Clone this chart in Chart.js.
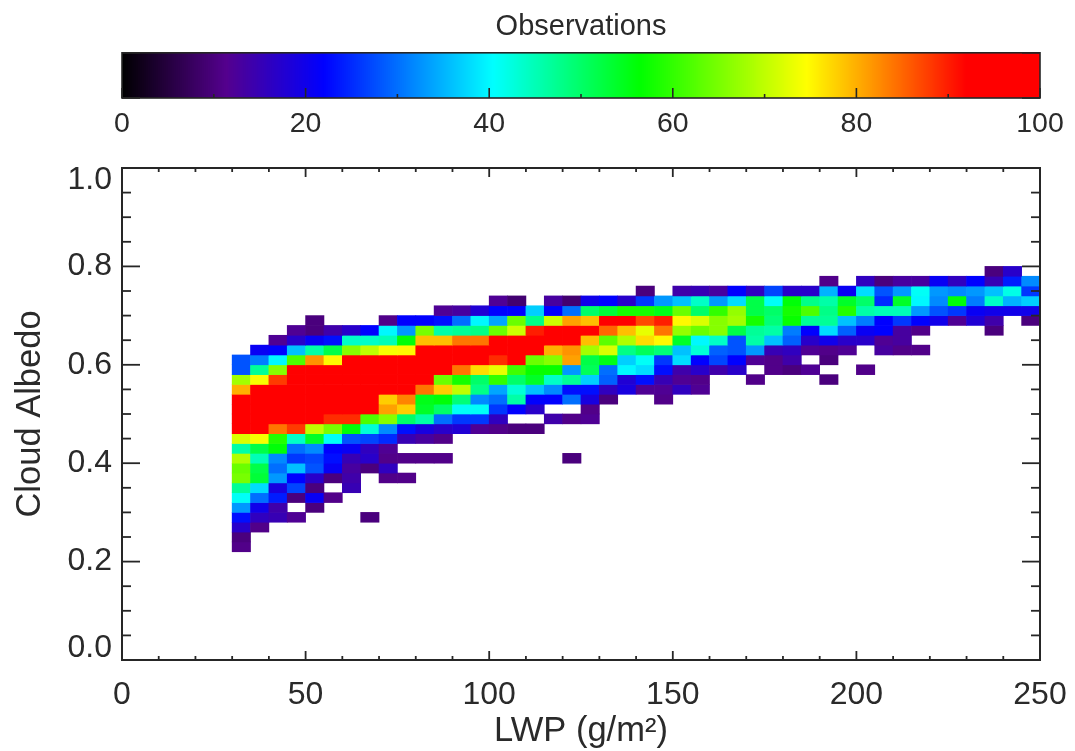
<!DOCTYPE html>
<html>
<head>
<meta charset="utf-8">
<title>Cloud Albedo vs LWP</title>
<script src="https://cdn.jsdelivr.net/npm/chart.js@4/dist/chart.umd.min.js"></script>
<style>
html,body{margin:0;padding:0;background:#fff;width:1075px;height:751px;overflow:hidden}
canvas{position:absolute;left:0;filter:blur(0.45px)}
#bar{top:0}
#main{top:150px}
</style>
</head>
<body>
<canvas id="bar" width="1075" height="150"></canvas>
<canvas id="main" width="1075" height="601"></canvas>
<script>
// Bin layout
const lwpBinStart = 30, lwpBinWidth = 5, albedoBinWidth = 0.02;
const colorTicks = [0, 20, 40, 60, 80, 100];

// Observations per cell. Each row is one albedo bin; first column index, then counts (0 = empty)
const albedoRows = [0.22,0.24,0.26,0.28,0.30,0.32,0.34,0.36,0.38,0.40,0.42,0.44,0.46,0.48,0.50,0.52,0.54,0.56,0.58,0.60,0.62,0.64,0.66,0.68,0.70,0.72,0.74,0.76,0.78];
const firstColumn = [0,0,0,0,0,0,0,0,0,0,0,0,0,0,0,0,0,0,0,0,1,2,3,4,11,14,22,32,41];
const row022 = [11];
const row024 = [10];
const row026 = [17,11];
const row028 = [23,16,15,12,0,0,0,10];
const row030 = [33,20,14,0,10];
const row032 = [41,30,24,10,21,11];
const row034 = [47,38,19,27,10,0,15];
const row036 = [65,53,33,22,17,10,14,0,11,11];
const row038 = [64,52,30,36,28,21,13,10,16];
const row040 = [69,45,32,26,27,23,15,17,11,11,11,11,0,0,0,0,0,0,10];
const row042 = [46,52,56,30,32,22,21,16,12];
const row044 = [72,74,59,44,54,41,28,27,25,15,13,11];
const row046 = [95,95,84,88,70,65,56,43,32,23,19,17,18,12,11,10,10];
const row048 = [95,95,95,95,95,89,89,62,66,50,46,30,26,26,16,0,0,14,11,12];
const row050 = [95,95,95,95,95,95,95,95,81,78,54,50,41,41,26,22,17,0,0,11];
const row052 = [95,95,95,95,95,95,95,95,78,83,55,56,49,32,30,46,22,22,30,19,10,0,0,11];
const row054 = [80,95,95,95,95,95,95,95,95,95,84,78,70,48,34,43,36,32,23,23,16,19,12,12,16,12];
const row056 = [68,74,88,95,95,95,95,95,95,95,95,64,58,50,60,50,54,44,47,37,29,18,23,15,12,11,0,0,11,0,0,0,10];
const row058 = [28,47,66,95,95,95,95,95,95,95,95,95,84,77,73,61,57,57,33,51,30,40,38,23,14,17,14,17,0,11,10,12,0,0,11];
const row060 = [28,31,40,62,82,75,95,95,95,95,95,95,95,95,89,92,64,66,81,52,55,37,41,26,38,22,27,22,12,11,14,0,10];
const row062 = [21,22,36,46,52,66,70,74,75,95,95,95,95,95,95,95,80,82,68,72,48,51,49,36,43,29,28,33,15,16,12,11,12,0,13,11,11];
const row064 = [12,17,21,23,44,44,45,56,79,79,84,84,95,95,95,92,95,79,63,69,77,75,54,40,44,28,46,36,29,17,20,17,17,12,13];
const row066 = [12,10,14,17,22,40,33,65,46,47,48,64,71,90,95,95,95,85,79,73,84,67,64,66,52,47,46,31,22,38,29,21,22,13,11,0,0,0,10];
const row068 = [10,0,0,0,11,22,22,23,30,40,34,64,48,71,81,79,92,92,87,90,75,72,66,68,58,49,57,47,47,36,31,22,26,22,20,12,18,14,0,10];
const row070 = [12,13,18,22,22,37,22,30,50,53,58,58,55,64,50,60,67,52,50,58,62,48,59,46,45,45,33,28,26,21,20,20,20];
const row072 = [12,9,0,13,9,20,22,17,26,33,36,44,33,38,52,41,56,48,46,54,50,25,54,40,32,56,31,44,35,37];
const row074 = [10,0,14,15,13,22,16,27,17,17,35,21,38,28,33,41,33,32,33,36,42,26];
const row076 = [11,0,16,10,13,13,21,16,22,15,24,32];
const row078 = [10,17];
const allRows = [row022,row024,row026,row028,row030,row032,row034,row036,row038,row040,row042,row044,row046,row048,row050,row052,row054,row056,row058,row060,row062,row064,row066,row068,row070,row072,row074,row076,row078];

// Colour table
const paletteAt = [0, 11.4, 22, 40.5, 56.5, 74.6, 92, 100];
const paletteRGB = [[0,0,0],[84,0,142],[0,0,255],[0,255,255],[0,255,0],[255,255,0],[255,0,0],[255,0,0]];

function colourFor(v){
  let i = 0;
  while (i < paletteAt.length - 2 && v > paletteAt[i + 1]) i++;
  const t = Math.min(1, Math.max(0, (v - paletteAt[i]) / (paletteAt[i + 1] - paletteAt[i])));
  const a = paletteRGB[i], b = paletteRGB[i + 1];
  return 'rgb(' + [0,1,2].map(k => Math.round(a[k] + (b[k] - a[k]) * t)).join(',') + ')';
}

const cells = [], cellColours = [];
allRows.forEach((row, r) => {
  row.forEach((count, k) => {
    if (!count) return;
    const col = firstColumn[r] + k;
    cells.push({x: lwpBinStart + (col + 0.5) * lwpBinWidth, y: [albedoRows[r], +(albedoRows[r] + albedoBinWidth).toFixed(2)]});
    cellColours.push(colourFor(count));
  });
});

const rampLevels = 459;
const rampCells = [], rampColours = [];
for (let i = 0; i < rampLevels; i++) {
  const c = (i + 0.5) * 100 / rampLevels;
  rampCells.push({x: c, y: [0, 1]});
  rampColours.push(colourFor(c));
}

// Inward-pointing IDL-style axes
const idlAxes = {
  id: 'idlAxes',
  afterDatasetsDraw(chart, args, o) {
    const {ctx, chartArea: a, scales: {x, y}} = chart;
    ctx.save();
    ctx.strokeStyle = '#262626';
    ctx.lineCap = 'butt';
    const seg = (x0, y0, x1, y1, w) => { ctx.lineWidth = w; ctx.beginPath(); ctx.moveTo(x0, y0); ctx.lineTo(x1, y1); ctx.stroke(); };
    x.ticks.forEach(t => {
      const p = x.getPixelForValue(t.value);
      const major = Math.abs(t.value % o.xMajor) < 1e-6;
      const len = major ? o.xLong : o.xShort;
      seg(p, a.bottom, p, a.bottom - len, o.tickWidth);
      if (o.topTicks) seg(p, a.top, p, a.top + len, o.tickWidth);
    });
    y.ticks.forEach(t => {
      const p = y.getPixelForValue(t.value);
      const q = t.value / o.yMajor;
      const major = Math.abs(q - Math.round(q)) < 1e-6;
      const len = major ? o.yLong : o.yShort;
      seg(a.left, p, a.left + len, p, o.tickWidth);
      seg(a.right, p, a.right - len, p, o.tickWidth);
    });
    ctx.lineWidth = o.frame;
    ctx.strokeRect(a.left, a.top, a.right - a.left, a.bottom - a.top);
    ctx.restore();
  }
};

const sans = '"Liberation Sans", Arial, sans-serif';
const ink = '#2a2a2a';
Chart.defaults.font.family = sans;
Chart.defaults.color = ink;

// Colour bar
new Chart(document.getElementById('bar'), {
  type: 'bar',
  data: {datasets: [{data: rampCells, backgroundColor: rampColours, barPercentage: 1, categoryPercentage: 1}]},
  plugins: [idlAxes],
  options: {
    responsive: false, animation: false, events: [],
    layout: {autoPadding: false, padding: {left: 122, right: 35, top: 10, bottom: 0}},
    plugins: {
      legend: {display: false}, tooltip: {enabled: false},
      title: {display: true, text: 'Observations', fullSize: false, color: ink,
        font: {size: 29, weight: 'normal', lineHeight: 1.2}, padding: {top: 0, bottom: 8}},
      idlAxes: {xMajor: 20, xLong: 10, xShort: 4, yMajor: 1, yLong: 18, yShort: 0, tickWidth: 1.6, frame: 1.6, topTicks: false}
    },
    scales: {
      x: {type: 'linear', min: 0, max: 100, offset: false, grid: {display: false}, border: {display: false},
        afterFit(s) { s.height = 52; s.paddingLeft = 0; s.paddingRight = 0; },
        ticks: {stepSize: 10, autoSkip: false, maxRotation: 0, padding: 1, color: ink, font: {size: 28.5},
          callback: v => colorTicks.includes(v) ? String(v) : ''}},
      y: {display: false, min: 0, max: 1, ticks: {stepSize: 1}, grid: {display: false}}
    }
  }
});

// Main heat map
new Chart(document.getElementById('main'), {
  type: 'bar',
  data: {datasets: [{data: cells, backgroundColor: cellColours, barPercentage: 1, categoryPercentage: 1}]},
  plugins: [idlAxes],
  options: {
    responsive: false, animation: false, events: [],
    layout: {autoPadding: false, padding: {left: 0, right: 35, top: 18, bottom: 0}},
    plugins: {
      legend: {display: false}, tooltip: {enabled: false},
      idlAxes: {xMajor: 50, xLong: 9, xShort: 4, yMajor: 0.2, yLong: 18, yShort: 9, tickWidth: 1.8, frame: 2, topTicks: true}
    },
    scales: {
      x: {type: 'linear', min: 0, max: 250, offset: false, grid: {display: false}, border: {display: false},
        afterFit(s) { s.height = 91; s.paddingLeft = 0; s.paddingRight = 0; },
        title: {display: true, text: 'LWP (g/m\u00B2)', color: ink, font: {size: 34.5}, padding: {top: 0, bottom: -1}},
        ticks: {stepSize: 10, autoSkip: false, maxRotation: 0, padding: 8, color: ink, font: {size: 32},
          callback: v => v % 50 === 0 ? String(v) : ''}},
      y: {min: 0, max: 1, grid: {display: false}, border: {display: false},
        afterFit(s) { s.width = 122; s.paddingTop = 0; s.paddingBottom = 0; },
        title: {display: true, text: 'Cloud Albedo', color: ink, font: {size: 34.5}, padding: {top: 10, bottom: 0}},
        ticks: {stepSize: 0.05, autoSkip: false, padding: 2, color: ink,
          font: {size: 32, lineHeight: 0.75},
          callback: v => {
            const q = v / 0.2;
            if (Math.abs(q - Math.round(q)) > 1e-6) return '';
            const s = v.toFixed(1);
            if (v < 1e-6) return [s, ''];
            if (v > 1 - 1e-6) return ['', s];
            return s;
          }}}
    }
  }
});
</script>
</body>
</html>
